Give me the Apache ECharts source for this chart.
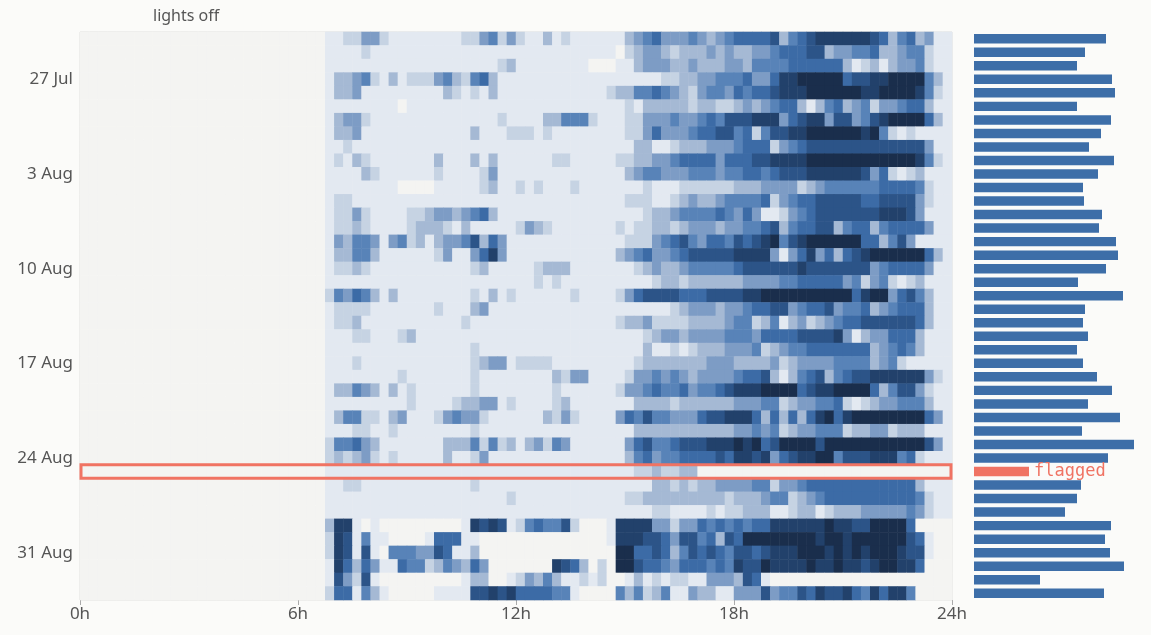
<!DOCTYPE html>
<html>
<head>
<meta charset="utf-8">
<script src="https://cdn.jsdelivr.net/npm/echarts@6/dist/echarts.min.js"></script>
<style>
  html, body { margin: 0; padding: 0; background: #fbfbf9; }
  #chart { width: 1151px; height: 635px; }
</style>
</head>
<body>
<div id="chart"></div>
<script>
// 15-minute bins, 96 per day; the first 24 bins (0h-6h) are lights off
let lightsOffBins = 24;

// activity level 0-9 for bins 24..95 (6h-24h), one string per day, 24 Jul .. 3 Sep
let activity = [
  '000112 244211 111111 224524 211312 111111 345644 454345 666673 567888 888763 563411',
  '000111 121111 111111 111111 111111 111110 234432 333434 334456 667734 455633 455211',
  '000111 111111 111111 111123 111111 110001 134443 343334 435555 666666 312313 445211',
  '000133 452131 222453 256311 111111 111111 111122 334455 564468 899999 677889 999531',
  '000133 411111 111132 121311 111111 111123 355654 324554 656678 889999 998899 998521',
  '000111 111110 111111 111111 111111 111111 213333 323322 343456 631356 345244 566311',
  '000134 421111 111111 111121 111335 552111 224445 445657 778884 678847 745789 999631',
  '000133 411111 111111 131112 221211 111111 224644 456677 562577 889999 998952 121111',
  '000112 111111 111111 111111 111111 111111 133112 333444 566624 567777 777777 777411',
  '000121 321111 111311 131311 111122 111112 233445 666646 667788 889999 999999 998521',
  '000111 132111 111211 112411 111111 111111 345544 455545 566567 778888 887462 123111',
  '000111 111110 000111 112311 212111 211111 112111 222222 333444 423455 555566 665211',
  '000122 111111 111111 111111 111111 111111 222112 343345 555624 566777 776677 774211',
  '000122 421111 223443 456311 111111 111111 112334 555565 464112 456777 777788 874111',
  '000122 321111 233321 311111 243211 111112 122332 344434 455673 566773 566356 666411',
  '000143 554145 231344 573641 111111 111111 222456 754665 767895 789999 996635 741111',
  '000133 553111 111241 146841 111111 111113 456445 677777 888841 468463 678999 999631',
  '000122 321111 111111 123111 112333 111111 123433 455555 677777 787777 777456 666411',
  '000111 111111 111111 111111 112121 111111 111233 233333 344445 566666 452452 123111',
  '000254 653131 111111 121312 111111 211112 467777 666777 788999 999999 968994 675311',
  '000122 221111 111211 134111 111111 111111 111112 344434 456677 456674 556345 666311',
  '000122 311111 111111 211111 111111 111112 334222 233334 552351 342345 667777 776311',
  '000111 221112 311111 111111 111111 111111 112344 344445 554666 677778 413446 663111',
  '000111 111111 111111 121111 111111 111111 113112 123334 445234 556666 666345 653111',
  '000111 211111 111111 123441 222211 111111 123333 333444 333342 344445 555345 211111',
  '000111 111112 111111 121111 111132 441111 244545 434444 566731 356735 677888 888421',
  '000133 543131 211111 121111 111121 111112 445655 645567 888999 967889 999635 774211',
  '000111 111111 211112 334412 111123 111111 133332 333333 444552 344556 212344 555311',
  '000135 522134 111245 442111 111324 211114 657554 446778 886363 636896 899999 999641',
  '000111 221121 111111 121111 111111 111111 133333 333333 445452 344555 233442 333111',
  '000255 643111 111133 352523 134254 111111 467556 777888 989679 999799 999999 999741',
  '000232 342121 111131 124111 111111 111111 356455 666676 887846 788995 777888 562111',
  '000111 111111 111111 111111 111111 111111 122322 330000 000000 000000 000000 000000',
  '000112 211111 111111 121111 111111 111111 111332 323344 445524 456666 666666 663111',
  '000111 111111 111111 111112 111111 111111 223333 333332 333455 234566 666666 665211',
  '000111 111111 111111 111111 111111 111111 111221 111212 233311 233123 334444 454211',
  '000388 101000 000000 187871 256557 200018 888442 446565 656688 888898 877999 960000',
  '000287 151100 001666 110000 000000 000018 887764 775637 699999 999899 899999 976100',
  '000287 171055 544761 130000 000000 000009 966763 576765 776788 899989 898999 877100',
  '000186 364116 552354 364000 000087 630209 976654 666565 877988 889889 887899 886000',
  '000174 271000 000000 133001 243531 121200 131212 211444 376100 000000 000000 000000',
  '000266 153100 000111 177878 666655 100005 352351 143311 444745 576877 865868 850000'
];

// right-hand bar per day
let dailyTotal = [132, 111, 103, 138, 141, 103, 137, 127, 115, 140, 124, 109, 110, 128,
  125, 142, 144, 132, 104, 149, 111, 109, 114, 103, 109, 123, 138, 114, 146, 108, 160,
  134, 55, 107, 103, 91, 137, 131, 136, 150, 66, 130];
let flaggedDay = 32;

let xTicks = ['0h', '6h', '12h', '18h', '24h'];

let months = ['Jan','Feb','Mar','Apr','May','Jun','Jul','Aug','Sep','Oct','Nov','Dec'];
let days = [];
for (let i = 0; i < activity.length; i++) {
    let d = new Date(2021, 6, 24 + i);
    days.push(d.getDate() + ' ' + months[d.getMonth()]);
}
let bins = [];
for (let b = 0; b < 96; b++) bins.push(String(b));

let cells = [];
activity.forEach(function (row, r) {
    let vals = row.replace(/ /g, '');
    for (let b = 0; b < lightsOffBins; b++) cells.push([b, r, -1]);
    for (let k = 0; k < vals.length; k++) cells.push([lightsOffBins + k, r, Number(vals[k])]);
});

let font = 'Noto Sans';
let myChart = echarts.init(document.getElementById('chart'));

let labelText = { type: 'text', left: 153, top: 8,
    style: { text: 'lights off', fontFamily: font, fontSize: 16, fill: '#555' } };

let option = {
    backgroundColor: '#fbfbf9',
    animation: false,
    grid: [
        { left: 80, top: 32, width: 872, height: 568, show: true, borderColor: '#dddddb', borderWidth: 1, backgroundColor: 'transparent' },
        { left: 974, top: 32, width: 176, height: 568 }
    ],
    xAxis: [
        { type: 'category', gridIndex: 0, data: bins, show: false },
        { type: 'value', gridIndex: 0, min: 0, max: 24, interval: 6, position: 'bottom',
          axisLine: { show: false }, splitLine: { show: false },
          axisTick: { show: true, length: 5, lineStyle: { color: '#aaa' } },
          axisLabel: { fontFamily: font, fontSize: 17, color: '#555', margin: 6,
                       formatter: function (v) { return xTicks[v / 6]; } } },
        { type: 'value', gridIndex: 1, min: 0, max: 176, show: false }
    ],
    yAxis: [
        { type: 'category', gridIndex: 0, data: days, inverse: true,
          axisLine: { show: false }, axisTick: { show: false },
          axisLabel: { fontFamily: font, fontSize: 17, color: '#555', margin: 7,
                       interval: function (i) { return (i - 3) % 7 === 0; } } },
        { type: 'category', gridIndex: 1, data: days, inverse: true, show: false }
    ],
    visualMap: {
        show: false, type: 'continuous', seriesIndex: 0, min: 0, max: 9,
        inRange: { color: ['#f4f4f2', '#e3e9f1', '#c6d3e3', '#a5b9d4', '#7d9cc5', '#5883b8',
                           '#3c6ba6', '#2c5488', '#22416b', '#1a2e4c'] },
        outOfRange: { color: '#ededeb' }
    },
    series: [
        { type: 'heatmap', xAxisIndex: 0, yAxisIndex: 0, data: cells, itemStyle: { borderWidth: 0 } },
        { type: 'bar', xAxisIndex: 2, yAxisIndex: 1, barWidth: '70%',
          data: dailyTotal.map(function (v, i) {
              if (i !== flaggedDay) return { value: v, itemStyle: { color: '#3d6ea8' } };
              return { value: v, itemStyle: { color: '#f07363' },
                       label: { show: true, position: 'right', distance: 5, formatter: 'flagged',
                                fontFamily: 'DejaVu Sans Mono', fontSize: 17, color: '#f07363' } };
          }) }
    ],
    graphic: [labelText]
};
myChart.setOption(option);

// outline the flagged day across the heatmap
let flagY = myChart.convertToPixel({ gridIndex: 0 }, [0, flaggedDay])[1];
let rowH = 568 / activity.length;
myChart.setOption({
    graphic: [
        labelText,
        { type: 'rect', shape: { x: 81, y: flagY - rowH / 2, width: 870, height: rowH },
          style: { fill: 'none', stroke: '#f07363', lineWidth: 3 }, z: 10 }
    ]
});
</script>
</body>
</html>
